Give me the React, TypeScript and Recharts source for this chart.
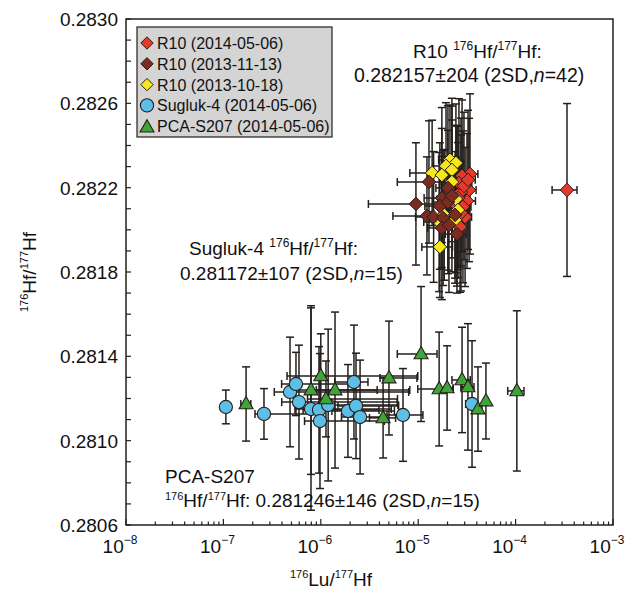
import React from 'react';
import { ScatterChart, Scatter, XAxis, YAxis, ErrorBar, ReferenceArea } from 'recharts';

type Pt = { x: number; y: number; ex: number | number[]; ey: number };

// Sugluk-4 (2014-05-06)
const sugluk: Pt[] = [
  { x: 1.06e-7, y: 0.28116, ex: [1.2e-8, 1.4e-8], ey: 0.00008 },
  { x: 2.61e-7, y: 0.281127, ex: [5e-8, 6.5e-7], ey: 0.00012 },
  { x: 4.83e-7, y: 0.281231, ex: [1.5e-7, 7.5e-6], ey: 0.00026 },
  { x: 5.56e-7, y: 0.281269, ex: [1.6e-7, 1.8e-6], ey: 0.00015 },
  { x: 5.97e-7, y: 0.281183, ex: [2e-7, 5.5e-6], ey: 0.00027 },
  { x: 7.93e-7, y: 0.28115, ex: [2.5e-7, 4.5e-6], ey: 0.00048 },
  { x: 9.58e-7, y: 0.281146, ex: [3e-7, 3e-6], ey: 0.0003 },
  { x: 9.81e-7, y: 0.281093, ex: [3e-7, 3.5e-6], ey: 0.00032 },
  { x: 1.19e-6, y: 0.281169, ex: [4e-7, 5e-6], ey: 0.00036 },
  { x: 1.9e-6, y: 0.281141, ex: [6e-7, 3.8e-6], ey: 0.00022 },
  { x: 2.19e-6, y: 0.281278, ex: [8e-7, 8.6e-7], ey: 0.00027 },
  { x: 2.3e-6, y: 0.281165, ex: [8e-7, 4e-6], ey: 0.00025 },
  { x: 2.53e-6, y: 0.281112, ex: [9e-7, 2e-6], ey: 0.00027 },
  { x: 6.98e-6, y: 0.281122, ex: [2.2e-6, 4.2e-6], ey: 0.00022 },
  { x: 3.57e-5, y: 0.281174, ex: [5e-6, 5e-6], ey: 0.0003 },
];

// PCA-S207 (2014-05-06)
const pca: Pt[] = [
  { x: 1.71e-7, y: 0.281174, ex: [2e-8, 2e-8], ey: 0.000176 },
  { x: 7.93e-7, y: 0.28124, ex: [2.5e-7, 3e-6], ey: 0.0004 },
  { x: 1.0e-6, y: 0.281307, ex: [5.5e-7, 8.9e-6], ey: 0.0002 },
  { x: 1.13e-6, y: 0.281198, ex: [4e-7, 5e-6], ey: 0.00018 },
  { x: 1.4e-6, y: 0.28124, ex: [5e-7, 6.8e-6], ey: 0.00037 },
  { x: 4.36e-6, y: 0.281108, ex: [1.2e-6, 1.5e-6], ey: 0.00019 },
  { x: 5.01e-6, y: 0.281297, ex: [9.5e-7, 4.7e-6], ey: 0.00027 },
  { x: 1.07e-5, y: 0.281411, ex: [4.6e-6, 4.9e-6], ey: 0.00032 },
  { x: 1.64e-5, y: 0.281245, ex: [6.5e-6, 6.4e-6], ey: 0.00027 },
  { x: 1.98e-5, y: 0.28125, ex: [3e-6, 3e-6], ey: 0.0002 },
  { x: 2.82e-5, y: 0.281288, ex: [6e-6, 6e-6], ey: 0.00025 },
  { x: 3.24e-5, y: 0.281255, ex: [5e-6, 5e-6], ey: 0.0003 },
  { x: 4.11e-5, y: 0.28115, ex: [4e-6, 4e-6], ey: 0.0002 },
  { x: 4.96e-5, y: 0.281188, ex: [2.5e-6, 2.5e-6], ey: 0.00018 },
  { x: 1.03e-4, y: 0.281236, ex: [2e-5, 1.9e-5], ey: 0.00038 },
];

// R10 (2014-05-06)
const r10May14: Pt[] = [
  { x: 3.4e-5, y: 0.282265, ex: 7e-6, ey: 0.00038 },
  { x: 2.82e-5, y: 0.282256, ex: 5e-6, ey: 0.00036 },
  { x: 3.33e-5, y: 0.282189, ex: 6e-6, ey: 0.00034 },
  { x: 2.75e-5, y: 0.28218, ex: 5e-6, ey: 0.00035 },
  { x: 3.17e-5, y: 0.282137, ex: 7e-6, ey: 0.00032 },
  { x: 2.5e-5, y: 0.282113, ex: 5e-6, ey: 0.00038 },
  { x: 2.88e-5, y: 0.282109, ex: 6e-6, ey: 0.00036 },
  { x: 2.69e-5, y: 0.282014, ex: 5e-6, ey: 0.00031 },
  { x: 3.03e-5, y: 0.282061, ex: 5e-6, ey: 0.00033 },
  { x: 2.62e-5, y: 0.282222, ex: 6e-6, ey: 0.0004 },
  { x: 2.95e-5, y: 0.282208, ex: 6e-6, ey: 0.00035 },
  { x: 2.56e-5, y: 0.282151, ex: 5e-6, ey: 0.00034 },
  { x: 2.75e-5, y: 0.28208, ex: 5e-6, ey: 0.00037 },
  { x: 3.25e-5, y: 0.282237, ex: 6e-6, ey: 0.00033 },
  { x: 3.37e-4, y: 0.282189, ex: [1e-4, 9e-5], ey: 0.00041 },
];

// R10 (2013-11-13)
const r10Nov13: Pt[] = [
  { x: 9.48e-6, y: 0.282123, ex: 6.4e-6, ey: 0.00029 },
  { x: 1.23e-5, y: 0.282066, ex: 6.8e-6, ey: 0.00028 },
  { x: 1.29e-5, y: 0.282227, ex: 6.8e-6, ey: 0.00029 },
  { x: 1.44e-5, y: 0.282061, ex: 5e-6, ey: 0.00031 },
  { x: 1.75e-5, y: 0.282151, ex: 6e-6, ey: 0.00033 },
  { x: 2.02e-5, y: 0.282199, ex: 5e-6, ey: 0.00039 },
  { x: 1.67e-5, y: 0.282113, ex: 5e-6, ey: 0.0003 },
  { x: 2.02e-5, y: 0.282132, ex: 6e-6, ey: 0.00034 },
  { x: 2.39e-5, y: 0.282071, ex: 6e-6, ey: 0.0003 },
  { x: 1.8e-5, y: 0.282056, ex: 5e-6, ey: 0.00032 },
  { x: 1.75e-5, y: 0.282009, ex: 5e-6, ey: 0.00034 },
  { x: 2.07e-5, y: 0.282023, ex: 5e-6, ey: 0.00032 },
  { x: 2.5e-5, y: 0.28198, ex: 6e-6, ey: 0.00028 },
  { x: 2.22e-5, y: 0.282161, ex: 5e-6, ey: 0.00036 },
];

// R10 (2013-10-18)
const r10Oct13: Pt[] = [
  { x: 2.12e-5, y: 0.282332, ex: 5e-6, ey: 0.00026 },
  { x: 2.44e-5, y: 0.282317, ex: 5e-6, ey: 0.00028 },
  { x: 1.93e-5, y: 0.282303, ex: 5e-6, ey: 0.0003 },
  { x: 1.39e-5, y: 0.28227, ex: 5.7e-6, ey: 0.00025 },
  { x: 1.75e-5, y: 0.28226, ex: 5e-6, ey: 0.00032 },
  { x: 2.22e-5, y: 0.282284, ex: 5e-6, ey: 0.00034 },
  { x: 2.22e-5, y: 0.282227, ex: 5e-6, ey: 0.00036 },
  { x: 2.44e-5, y: 0.282146, ex: 6e-6, ey: 0.00035 },
  { x: 1.64e-5, y: 0.282037, ex: 5e-6, ey: 0.00033 },
  { x: 2.39e-5, y: 0.282047, ex: 6e-6, ey: 0.0003 },
  { x: 1.67e-5, y: 0.281919, ex: 5.8e-6, ey: 0.00024 },
  { x: 2.56e-5, y: 0.282094, ex: 6e-6, ey: 0.00032 },
  { x: 1.85e-5, y: 0.282071, ex: 5e-6, ey: 0.00031 },
];

const xDecades = [1e-8, 1e-7, 1e-6, 1e-5, 1e-4, 1e-3];
const xMinorSteps = [2, 3, 4, 5, 6, 7, 8, 9];
const xTicks = [...xDecades, ...xDecades.slice(0, -1).flatMap((d) => xMinorSteps.map((m) => m * d))].sort((a, b) => a - b);

const yTicks = [
  0.2806, 0.2807, 0.2808, 0.2809, 0.281, 0.2811, 0.2812, 0.2813, 0.2814, 0.2815, 0.2816, 0.2817, 0.2818,
  0.2819, 0.282, 0.2821, 0.2822, 0.2823, 0.2824, 0.2825, 0.2826, 0.2827, 0.2828, 0.2829, 0.283,
];
const yLabels = [0.2806, 0.281, 0.2814, 0.2818, 0.2822, 0.2826, 0.283];

const W = 628;
const H = 589;
const FONT = '"Liberation Sans", Arial, Helvetica, sans-serif';
const INK = '#231f1c';
const EDGE = '#2a1d18';

const RED = '#e4392c';
const BROWN = '#7a2c23';
const YELLOW = '#f6e71f';
const BLUE = '#5bbfe8';
const GREEN = '#3ea53a';

const diamond = (fill: string, r = 6.8) => (p: any) => {
  const { cx, cy } = p;
  return (
    <path
      d={`M${cx} ${cy - r}L${cx + r} ${cy}L${cx} ${cy + r}L${cx - r} ${cy}Z`}
      fill={fill}
      stroke={EDGE}
      strokeWidth={1}
    />
  );
};

const circle = (fill: string) => (p: any) => (
  <circle cx={p.cx} cy={p.cy} r={6.6} fill={fill} stroke={EDGE} strokeWidth={1.1} />
);

const triangle = (fill: string) => (p: any) => {
  const { cx, cy } = p;
  return (
    <path
      d={`M${cx} ${cy - 7.5}L${cx + 7} ${cy + 4.8}L${cx - 7} ${cy + 4.8}Z`}
      fill={fill}
      stroke={EDGE}
      strokeWidth={1.1}
    />
  );
};

const XTick = (p: any) => {
  const { x, y, payload } = p;
  const v = payload.value;
  const major = xDecades.some((d) => Math.abs(d - v) / d < 1e-6);
  const exp = Math.round(Math.log10(v));
  return (
    <g>
      <line x1={x} x2={x} y1={y} y2={y - (major ? 6 : 3.5)} stroke={INK} strokeWidth={1.2} />
      {major && (
        <text x={x - 6} y={y + 28} textAnchor="middle" fontSize={19} fill="#111" fontFamily={FONT}>
          10
          <tspan fontSize={12} dy={-9}>
            {'\u2212' + String(-exp)}
          </tspan>
        </text>
      )}
    </g>
  );
};

const YTick = (p: any) => {
  const { x, y, payload } = p;
  const v = payload.value;
  const major = yLabels.some((l) => Math.abs(l - v) < 1e-8);
  return (
    <g>
      <line x1={x} x2={x + 5} y1={y} y2={y} stroke={INK} strokeWidth={1.2} />
      {major && (
        <text x={x - 8} y={y + 7} textAnchor="end" fontSize={19} fill="#111" fontFamily={FONT}>
          {v.toFixed(4)}
        </text>
      )}
    </g>
  );
};

const Ratio = ({ sup = 12, shift = 8 }: { sup?: number; shift?: number }) => (
  <>
    <tspan fontSize={sup} dy={-shift}>176</tspan>
    <tspan dy={shift}>Hf/</tspan>
    <tspan fontSize={sup} dy={-shift}>177</tspan>
    <tspan dy={shift}>Hf</tspan>
  </>
);

const legendItems = [
  { label: 'R10 (2014-05-06)', kind: 'd', color: RED },
  { label: 'R10 (2013-11-13)', kind: 'd', color: BROWN },
  { label: 'R10 (2013-10-18)', kind: 'd', color: YELLOW },
  { label: 'Sugluk-4 (2014-05-06)', kind: 'c', color: BLUE },
  { label: 'PCA-S207 (2014-05-06)', kind: 't', color: GREEN },
];

const bars = () => [
  <ErrorBar key="ex" dataKey="ex" direction="x" width={4} stroke={INK} strokeWidth={1.5} isAnimationActive={false} />,
  <ErrorBar key="ey" dataKey="ey" direction="y" width={4} stroke={INK} strokeWidth={1.5} isAnimationActive={false} />,
];

export default function App() {
  return (
    <div style={{ position: 'absolute', left: 0, top: 0, width: W, height: H, background: '#fff', fontFamily: FONT }}>
      <ScatterChart width={W} height={H} margin={{ top: 19, right: 15, bottom: 34, left: 66 }}>
        <XAxis
          type="number"
          dataKey="x"
          scale="log"
          domain={[1e-8, 1e-3]}
          ticks={xTicks}
          interval={0}
          tickSize={0}
          tickMargin={0}
          axisLine={false}
          tickLine={false}
          tick={(p: any) => <XTick {...p} />}
          height={30}
          allowDataOverflow
        />
        <YAxis
          type="number"
          dataKey="y"
          domain={[0.2806, 0.283]}
          ticks={yTicks}
          interval={0}
          tickSize={0}
          tickMargin={0}
          axisLine={false}
          tickLine={false}
          tick={(p: any) => <YTick {...p} />}
          width={60}
          allowDataOverflow
        />
        <ReferenceArea x1={1e-8} x2={1e-3} y1={0.2806} y2={0.283} fill="none" fillOpacity={0} stroke={INK} strokeWidth={1.5} />
        <Scatter data={sugluk} shape={circle(BLUE)} isAnimationActive={false}>
          {bars()}
        </Scatter>
        <Scatter data={pca} shape={triangle(GREEN)} isAnimationActive={false}>
          {bars()}
        </Scatter>
        <Scatter data={r10May14} shape={diamond(RED)} isAnimationActive={false}>
          {bars()}
        </Scatter>
        <Scatter data={r10Oct13} shape={diamond(YELLOW)} isAnimationActive={false}>
          {bars()}
        </Scatter>
        <Scatter data={r10Nov13} shape={diamond(BROWN)} isAnimationActive={false}>
          {bars()}
        </Scatter>
      </ScatterChart>

      <svg
        width={W}
        height={H}
        style={{ position: 'absolute', left: 0, top: 0, pointerEvents: 'none' }}
        fontFamily={FONT}
        fill="#111"
      >
        {/* legend */}
        <rect x={137} y={27} width={195} height={110} fill="#d4d4d4" stroke={INK} strokeWidth={1.2} />
        {legendItems.map((it, i) => {
          const cy = 43 + i * 20.8;
          const cx = 147;
          return (
            <g key={it.label}>
              {it.kind === 'd' && diamond(it.color, 6.2)({ cx, cy })}
              {it.kind === 'c' && circle(it.color)({ cx, cy })}
              {it.kind === 't' && triangle(it.color)({ cx, cy: cy + 1 })}
              <text x={157} y={cy + 6} fontSize={16}>
                {it.label}
              </text>
            </g>
          );
        })}

        {/* annotations */}
        <text x={413} y={58} fontSize={19}>
          R10 <Ratio />:
        </text>
        <text x={354} y={82} fontSize={19.5}>
          0.282157±204 (2SD,<tspan fontStyle="italic">n</tspan>=42)
        </text>
        <text x={189} y={255} fontSize={19}>
          Sugluk-4 <Ratio />:
        </text>
        <text x={180} y={280} fontSize={19}>
          0.281172±107 (2SD,<tspan fontStyle="italic">n</tspan>=15)
        </text>
        <text x={165} y={483} fontSize={19}>
          PCA-S207
        </text>
        <text x={165} y={507} fontSize={19}>
          <Ratio sup={11} shift={7} />: 0.281246±146 (2SD,<tspan fontStyle="italic">n</tspan>=15)
        </text>

        {/* axis titles */}
        <text x={331} y={586} fontSize={19} textAnchor="middle">
          <tspan fontSize={11} dy={-8}>176</tspan>
          <tspan dy={8}>Lu/</tspan>
          <tspan fontSize={11} dy={-8}>177</tspan>
          <tspan dy={8}>Hf</tspan>
        </text>
        <text transform="translate(36 272) rotate(-90)" fontSize={19} textAnchor="middle">
          <Ratio sup={11} />
        </text>
      </svg>
    </div>
  );
}
